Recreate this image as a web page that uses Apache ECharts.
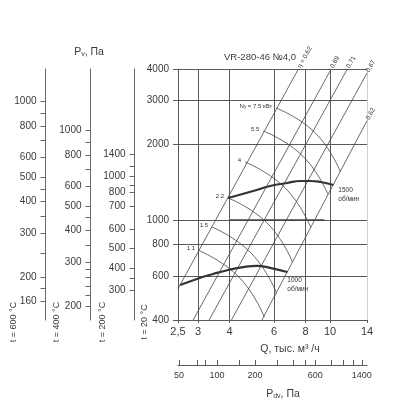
<!DOCTYPE html>
<html><head><meta charset="utf-8">
<script src="https://cdn.jsdelivr.net/npm/echarts@6/dist/echarts.min.js"></script>
<style>html,body{margin:0;padding:0;background:#fff}#c{width:398px;height:418px}</style>
</head><body><div id="c"></div>
<script>
// ---------- data ----------
const qTicks = [2.5, 3, 4, 6, 8, 10, 14];
const pTicks = [400, 600, 800, 1000, 2000, 3000, 4000];
const t600Ticks = [160, 180, 200, 250, 300, 350, 400, 450, 500, 600, 700, 800, 900, 1000];
const t600Labels = [160, 200, 300, 400, 500, 600, 800, 1000];
const t400Ticks = [200, 220, 240, 260, 280, 300, 350, 400, 450, 500, 600, 700, 800, 900, 1000];
const t400Labels = [200, 300, 400, 500, 600, 800, 1000];
const t200Labels = [1400, 1000, 800, 700, 600, 500, 400, 300];
const t200AtP20 = [1829, 1489, 1297, 1131, 922, 776, 643, 527];
const t200MinorAtP20 = [1643, 1380, 586];
const pdvTicks = [50, 70, 80, 100, 150, 200, 300, 400, 500, 600, 800, 1000, 1200, 1400];
const pdvLabels = [50, 100, 200, 600, 1400];

const speed1500 = [[3.95,1225],[4.96,1306],[5.79,1368],[6.77,1406],[7.62,1432],[8.35,1432],[9.15,1419],[10.3,1380]];
const speed1000 = [[2.55,551],[2.97,583],[3.44,610],[3.95,633],[4.53,650],[5.14,657],[5.79,645],[6.77,621]];
const boldSegment = [[4,1000],[9.5,1000]];

const etaNames = ['η = 0.62', '0.69', '0.71', '0.67', '0.62'];
const etaLines = [
  [[2.5,533],[7.49,4000]],
  [[2.87,400],[10.1,4000]],
  [[3.32,400],[11.7,4000]],
  [[4.07,400],[14,3854]],
  [[5.37,400],[14,2489]]
];

const powerNames = ['7.5', '5.5', '4', '2.2', '1.5', '1.1'];
const powerArcs = [
  [[6.12,2797],[8.74,2224],[10.99,1555]],
  [[5.44,2265],[7.76,1808],[9.80,1271]],
  [[4.61,1704],[6.63,1345],[8.39,934]],
  [[3.95,1225],[5.64,973],[7.10,680]],
  [[3.41,939],[4.88,737],[6.15,510]],
  [[3.03,756],[4.35,594],[5.49,411]]
];

// ---------- chart ----------
const FONT = 'Liberation Sans';
const TXT = '#3a3a3a';
const AX = '#5a5a5a';
const chart = echarts.init(document.getElementById('c'), null, {renderer: 'canvas'});

function nearestLabel(v, pos, labels) {
  let best = 0, bd = Infinity;
  pos.forEach((p, i) => { const d = Math.abs(Math.log(p) - Math.log(v)); if (d < bd) { bd = d; best = i; } });
  return String(labels[best]);
}
function leftAxis(gridIndex, min, max, ticks, labels, fmt) {
  return {
    type: 'log', gridIndex, min, max, position: 'left',
    axisLine: {show: true, lineStyle: {color: '#666', width: 1}},
    axisTick: {show: true, length: 5, customValues: ticks, lineStyle: {color: '#666'}},
    axisLabel: {show: true, customValues: labels, margin: 9, fontSize: 10, fontFamily: FONT, color: TXT,
      formatter: fmt || (v => String(Math.round(v)))},
    splitLine: {show: false}
  };
}
const hiddenX = i => ({type: 'value', gridIndex: i, show: false, min: 0, max: 1});

const series = [];
etaLines.forEach(d => series.push({type: 'line', xAxisIndex: 0, yAxisIndex: 0, data: d, symbol: 'none',
  lineStyle: {color: '#444', width: 0.8}, silent: true}));
powerArcs.forEach(d => series.push({type: 'line', xAxisIndex: 0, yAxisIndex: 0, data: d, symbol: 'none', smooth: true,
  lineStyle: {color: '#444', width: 0.8}, silent: true}));
series.push({type: 'line', xAxisIndex: 0, yAxisIndex: 0, data: boldSegment, symbol: 'none',
  lineStyle: {color: '#444', width: 1.7}, silent: true});
[speed1500, speed1000].forEach(d => series.push({type: 'line', xAxisIndex: 0, yAxisIndex: 0, data: d, symbol: 'none', smooth: true,
  lineStyle: {color: '#333', width: 2.2}, silent: true}));

const option = {
  animation: false,
  backgroundColor: '#fff',
  textStyle: {fontFamily: FONT},
  grid: [
    {left: 178, top: 69, width: 189, height: 251},
    {left: 45.5, top: 69, width: 1, height: 251},
    {left: 90.5, top: 69, width: 1, height: 251},
    {left: 134.5, top: 69, width: 1, height: 251},
    {left: 178, top: 355, width: 189, height: 10}
  ],
  xAxis: [
    {type: 'log', gridIndex: 0, min: 2.5, max: 14, position: 'bottom',
      axisLine: {show: true, lineStyle: {color: AX}},
      axisTick: {show: true, length: 3, customValues: qTicks, lineStyle: {color: AX}},
      axisLabel: {customValues: qTicks, margin: 6, fontSize: 11, fontFamily: FONT, color: TXT,
        formatter: v => (Math.abs(v - 2.5) < 1e-6 ? '2,5' : String(Math.round(v)))},
      splitLine: {show: true, lineStyle: {color: [AX, AX, AX, AX, AX, AX, '#cfcfcf'], width: 1}}},
    hiddenX(1), hiddenX(2), hiddenX(3),
    {type: 'log', gridIndex: 4, min: 49, max: 1540, position: 'bottom',
      axisLine: {show: true, lineStyle: {color: AX}},
      axisTick: {show: true, inside: true, length: 5, customValues: pdvTicks, lineStyle: {color: AX, width: 1}},
      axisLabel: {customValues: pdvLabels, margin: 6, fontSize: 9, fontFamily: FONT, color: TXT,
        formatter: v => String(Math.round(v))},
      splitLine: {show: false}}
  ],
  yAxis: [
    {type: 'log', gridIndex: 0, min: 400, max: 4000, position: 'left',
      axisLine: {show: true, lineStyle: {color: AX}},
      axisTick: {show: true, length: 5, customValues: pTicks, lineStyle: {color: AX}},
      axisLabel: {customValues: pTicks, margin: 9, fontSize: 10, fontFamily: FONT, color: TXT,
        formatter: v => String(Math.round(v))},
      splitLine: {show: true, lineStyle: {color: AX, width: 1}}},
    leftAxis(1, 135, 1350, t600Ticks, t600Labels),
    leftAxis(2, 176, 1760, t400Ticks, t400Labels),
    leftAxis(3, 400, 4000, t200AtP20.concat(t200MinorAtP20), t200AtP20, v => nearestLabel(v, t200AtP20, t200Labels)),
    {type: 'value', gridIndex: 4, show: false, min: 0, max: 1}
  ],
  series
};
chart.setOption(option);

// ---------- annotations ----------
const px = (d) => chart.convertToPixel({gridIndex: 0}, d);
const g = [];
const small = {fontFamily: FONT, fill: '#333'};
etaLines.forEach((ln, i) => {
  const a = px(ln[0]), b = px(ln[1]);
  const ang = Math.atan2(a[1] - b[1], b[0] - a[0]);
  g.push({type: 'text', x: b[0] + 1.5 * Math.cos(ang), y: b[1] - 1.5 * Math.sin(ang), rotation: ang,
    style: Object.assign({text: etaNames[i], fontSize: 6.5, align: 'left', verticalAlign: 'middle'}, small)});
});
powerArcs.forEach((arc, i) => {
  const s = px(arc[0]);
  const txt = i === 0 ? '{n|N}{s|у}{n| = 7.5 кВт}' : '{n|' + powerNames[i] + '}';
  g.push({type: 'text', x: s[0] - 4, y: s[1] - 2,
    style: {text: txt, align: 'right', verticalAlign: 'middle', fill: '#333', fontFamily: FONT,
      rich: {n: {fontSize: 6, fontFamily: FONT, fill: '#333'}, s: {fontSize: 4.5, fontFamily: FONT, fill: '#333', verticalAlign: 'bottom'}}}});
});
const e15 = px(speed1500[speed1500.length - 1]);
g.push({type: 'text', x: e15[0] + 5, y: e15[1] + 1, style: Object.assign({text: '1500\nоб/мин', fontSize: 6.5, lineHeight: 9, align: 'left', verticalAlign: 'top'}, small)});
const e10 = px(speed1000[speed1000.length - 1]);
g.push({type: 'text', x: e10[0], y: e10[1] + 4, style: Object.assign({text: '1000\nоб/мин', fontSize: 6.5, lineHeight: 9, align: 'left', verticalAlign: 'top'}, small)});

g.push({type: 'text', x: 260, y: 57, style: {text: 'VR-280-46 №4,0', fontSize: 9.5, fontFamily: FONT, fill: TXT, align: 'center', verticalAlign: 'middle'}});
g.push({type: 'text', x: 89, y: 52, style: {text: '{a|P}{b|v}{a|, Па}', align: 'center', verticalAlign: 'middle',
  rich: {a: {fontSize: 10.5, fontFamily: FONT, fill: TXT}, b: {fontSize: 7, fontFamily: FONT, fill: TXT, verticalAlign: 'bottom'}}}});
g.push({type: 'text', x: 290, y: 349, style: {text: 'Q, тыс. м³ /ч', fontSize: 10.5, fontFamily: FONT, fill: TXT, align: 'center', verticalAlign: 'middle'}});
g.push({type: 'text', x: 283, y: 394, style: {text: '{a|P}{b|dv}{a|, Па}', align: 'center', verticalAlign: 'middle',
  rich: {a: {fontSize: 10.5, fontFamily: FONT, fill: TXT}, b: {fontSize: 7, fontFamily: FONT, fill: TXT, verticalAlign: 'bottom'}}}});
[['t = 600 °C', 14], ['t = 400 °C', 57], ['t = 200 °C', 103], ['t = 20 °C', 145]].forEach(([t, x]) => {
  g.push({type: 'text', x, y: 322, rotation: Math.PI / 2, style: {text: t, fontSize: 9, fontFamily: FONT, fill: TXT, align: 'center', verticalAlign: 'middle'}});
});
chart.setOption({graphic: g});
</script>
</body></html>
